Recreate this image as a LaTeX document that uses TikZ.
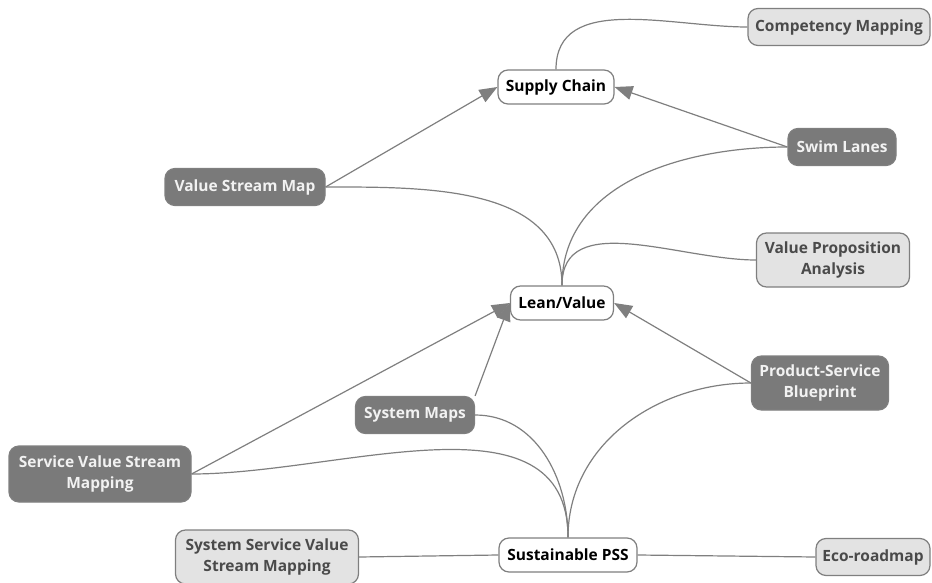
\documentclass[tikz,border=0pt]{standalone}
\usepackage{fontspec}
\setmainfont{Open Sans}
\usetikzlibrary{arrows.meta}

\definecolor{linegray}{HTML}{7F7F7F}
\definecolor{darkfill}{HTML}{7A7A7A}
\definecolor{lightfill}{HTML}{E3E3E3}
\definecolor{lighttext}{HTML}{4A4A4A}
\definecolor{darktext}{HTML}{F2F2F2}

\begin{document}
\begin{tikzpicture}[x=1pt, y=-1pt,
    topic/.style={shape=rectangle, rounded corners=10pt, draw=linegray, line width=1.2pt,
        align=center, inner sep=3pt, font=\fontsize{15.5}{21}\selectfont\bfseries},
    main/.style={topic, fill=white, text=black, minimum height=34pt},
    dark/.style={topic, fill=darkfill, text=darktext, minimum height=37pt},
    light/.style={topic, fill=lightfill, text=lighttext, minimum height=37pt},
    link/.style={color=linegray, line width=1.2pt},
    feed/.style={link, -{Triangle[length=18pt, width=14pt]}}]
        \useasboundingbox (0,0) rectangle (932,583);

        \node[main, minimum width=116pt] (SC) at (556,87) {Supply Chain};
        \node[main, minimum width=103pt] (LV) at (562,303) {Lean/Value};
        \node[main, minimum width=138pt] (SPSS) at (568,555) {Sustainable PSS};

        \node[light, minimum width=182pt] (CM) at (839,27) {Competency Mapping};
        \node[dark, minimum width=108pt] (SL) at (842,147) {Swim Lanes};
        \node[dark, minimum width=160pt] (VSM) at (245,187) {Value Stream Map};
        \node[light, minimum width=153pt, minimum height=54pt] (VPA) at (833,260) {Value Proposition\\Analysis};
        \node[dark, minimum width=137pt, minimum height=54pt] (PSB) at (820,383) {Product-Service\\Blueprint};
        \node[dark, minimum width=119pt] (SM) at (415,415) {System Maps};
        \node[dark, minimum width=182pt, minimum height=56pt] (SVSM) at (100,474) {Service Value Stream\\Mapping};
        \node[light, minimum width=183pt, minimum height=54pt] (SSVSM) at (267,557) {System Service Value\\Stream Mapping};
        \node[light, minimum width=114pt] (ECO) at (873,557) {Eco-roadmap};

        \path (VSM.east) edge [feed] (SC.west);
        \path (SL.west) edge [feed] (SC.east);
        \path (SC.north) edge [link, out=90, in=180] (CM.west);

        \path (LV.north) edge [link, out=90, in=0] (VSM.east);
        \path (LV.north) edge [link, out=90, in=180] (SL.west);
        \path (LV.north) edge [link, out=90, in=180] (VPA.west);

        \path (SVSM.east) edge [feed] (LV.west);
        \path (SM.north east) edge [feed] (LV.west);
        \path (PSB.west) edge [feed] (LV.east);

        \path (SPSS.north) edge [link, out=90, in=0] (SM.east);
        \path (SPSS.north) edge [link, out=90, in=0] (SVSM.east);
        \path (SPSS.north) edge [link, out=90, in=180] (PSB.west);

        \path (SPSS.west) edge [link] (SSVSM.east);
        \path (SPSS.east) edge [link] (ECO.west);
    \end{tikzpicture}
\end{document}
